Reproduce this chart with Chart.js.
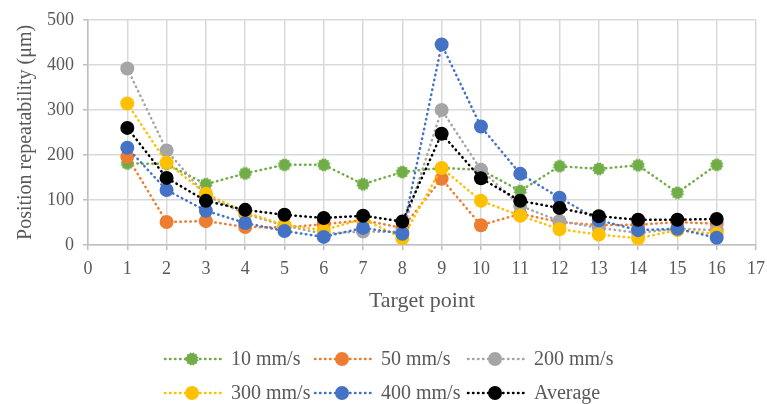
<!DOCTYPE html>
<html>
<head>
    <title>Position repeatability</title>
    <script src="https://cdn.jsdelivr.net/npm/chart.js"></script>
    <style>
        body { margin: 0; background: #fff; }
    </style>
</head>
<body>
    <canvas id="repeatChart" width="767" height="404"></canvas>

    <script>
        const targetPoints = [1, 2, 3, 4, 5, 6, 7, 8, 9, 10, 11, 12, 13, 14, 15, 16];
        const speed10 = [181, 180, 135, 159, 178, 178, 135, 162, 171, 167, 120, 175, 169, 177, 116, 178];
        const speed50 = [196, 51, 53, 40, 39, 46, 55, 38, 147, 44, 69, 51, 44, 45, 51, 47];
        const speed200 = [392, 210, 110, 69, 43, 25, 30, 29, 300, 167, 87, 53, 38, 27, 36, 33];
        const speed300 = [314, 183, 114, 73, 44, 33, 58, 15, 171, 98, 65, 35, 23, 15, 33, 25];
        const speed400 = [216, 122, 76, 49, 31, 18, 38, 25, 445, 263, 158, 105, 55, 33, 36, 16];
        const average = [260, 149, 98, 78, 67, 60, 65, 52, 247, 148, 98, 82, 64, 56, 56, 58];

        const font = "'Liberation Serif', 'Times New Roman', serif";
        const textColor = '#595959';

        // jagged round marker for the 10 mm/s series
        function burst(color, r) {
            const c = document.createElement('canvas');
            c.width = c.height = r * 2 + 2;
            const g = c.getContext('2d');
            g.fillStyle = color;
            g.beginPath();
            const n = 24;
            for (let i = 0; i < n; i++) {
                const a = i / n * Math.PI * 2;
                const rr = i % 2 ? r : r - 1.6;
                g.lineTo(r + 1 + Math.cos(a) * rr, r + 1 + Math.sin(a) * rr);
            }
            g.closePath();
            g.fill();
            return c;
        }

        const greenMark = burst('#70AD47', 7);

        function series(label, values, color, order, style) {
            return {
                label: label,
                data: values.map((v, i) => ({ x: targetPoints[i], y: v })),
                borderColor: color,
                backgroundColor: color,
                borderWidth: 2.5,
                borderDash: [0.5, 4.5],
                borderCapStyle: 'round',
                pointStyle: style || 'circle',
                pointRadius: 7,
                pointBorderWidth: 0,
                order: order
            };
        }

        const datasets = [
            series('10 mm/s', speed10, '#70AD47', 5, greenMark),
            series('50 mm/s', speed50, '#ED7D31', 4),
            series('200 mm/s', speed200, '#A5A5A5', 3),
            series('300 mm/s', speed300, '#FFC000', 2),
            series('400 mm/s', speed400, '#4472C4', 1),
            series('Average', average, '#000000', 0)
        ];

        // legend drawn in two rows of three, like the original
        const legendPlugin = {
            id: 'rowLegend',
            afterDraw(chart) {
                const ctx = chart.ctx;
                const cols = [165, 315, 468];
                const rows = [359, 393];
                ctx.save();
                chart.data.datasets.forEach((ds, i) => {
                    const x0 = cols[i % 3];
                    const y = rows[Math.floor(i / 3)];
                    ctx.strokeStyle = ds.borderColor;
                    ctx.lineWidth = 2.5;
                    ctx.lineCap = 'round';
                    ctx.setLineDash([0.5, 4.5]);
                    ctx.beginPath();
                    ctx.moveTo(x0, y);
                    ctx.lineTo(x0 + 56, y);
                    ctx.stroke();
                    ctx.setLineDash([]);
                    const mx = x0 + 27;
                    if (ds.pointStyle instanceof HTMLCanvasElement) {
                        ctx.drawImage(ds.pointStyle, mx - ds.pointStyle.width / 2, y - ds.pointStyle.height / 2);
                    } else {
                        ctx.fillStyle = ds.backgroundColor;
                        ctx.beginPath();
                        ctx.arc(mx, y, 7, 0, Math.PI * 2);
                        ctx.fill();
                    }
                    ctx.fillStyle = textColor;
                    ctx.font = '20px ' + font;
                    ctx.textBaseline = 'middle';
                    ctx.fillText(ds.label, x0 + 66, y + 1);
                });
                ctx.restore();
            }
        };

        const ctx = document.getElementById('repeatChart').getContext('2d');
        new Chart(ctx, {
            type: 'line',
            data: { datasets: datasets },
            plugins: [legendPlugin],
            options: {
                responsive: false,
                animation: false,
                layout: { padding: { left: 10, right: 0, top: 4, bottom: 86 } },
                plugins: {
                    legend: { display: false },
                    tooltip: { enabled: false }
                },
                scales: {
                    x: {
                        type: 'linear',
                        min: 0,
                        max: 17,
                        afterFit: scale => { scale.paddingRight = 11; },
                        ticks: { stepSize: 1, color: textColor, font: { family: font, size: 18 }, padding: 8 },
                        grid: { color: '#D9D9D9', lineWidth: 1.5, tickLength: 5, tickColor: '#BFBFBF' },
                        border: { color: '#BFBFBF', width: 1.5 },
                        title: { display: true, text: 'Target point', color: textColor, font: { family: font, size: 22 }, padding: { top: 0 } }
                    },
                    y: {
                        min: 0,
                        max: 500,
                        ticks: { stepSize: 100, color: textColor, font: { family: font, size: 18 }, padding: 9 },
                        grid: { color: '#D9D9D9', lineWidth: 1.5, tickLength: 5, tickColor: '#BFBFBF' },
                        border: { color: '#BFBFBF', width: 1.5 },
                        title: { display: true, text: 'Position repeatability (μm)', color: textColor, font: { family: font, size: 20 }, padding: { bottom: 0 } }
                    }
                }
            }
        });
    </script>
</body>
</html>
